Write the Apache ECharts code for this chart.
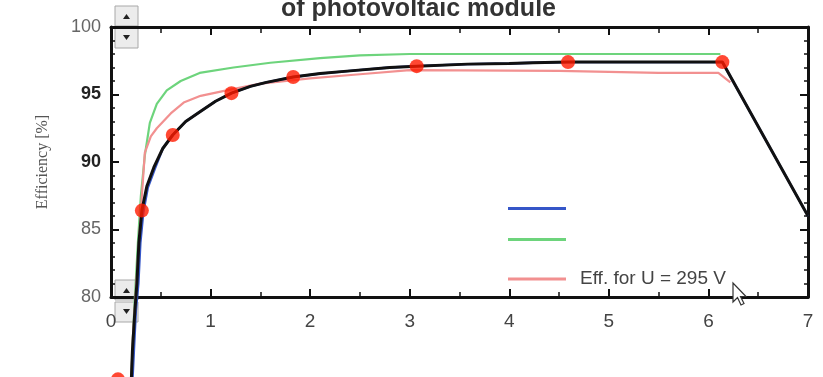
<!DOCTYPE html>
<html>
<head>
<meta charset="utf-8">
<script src="https://cdn.jsdelivr.net/npm/echarts@6/dist/echarts.min.js"></script>
<style>
  html, body { margin: 0; background: #fff; }
  #chart { width: 823px; height: 377px; }
</style>
</head>
<body>
<div id="chart"></div>
<script>
// values: [x, efficiency %]
const blackCurve = [
  [0.20, 73], [0.215, 76], [0.24, 79], [0.26, 81], [0.28, 84], [0.31, 86.4],
  [0.36, 88.2], [0.43, 89.6], [0.52, 91.0], [0.62, 92.0], [0.75, 93.0],
  [0.89, 93.7], [1.05, 94.5], [1.21, 95.1], [1.4, 95.6], [1.56, 95.9],
  [1.83, 96.3], [2.1, 96.55], [2.4, 96.75], [2.8, 97.0], [3.07, 97.1],
  [3.58, 97.25], [4.0, 97.3], [4.24, 97.35], [4.59, 97.4], [5.2, 97.4],
  [6.14, 97.4], [7, 86.0]
]
const blueCurve = [
  [0.21, 73], [0.23, 76], [0.25, 79], [0.275, 81], [0.295, 84], [0.325, 86.3],
  [0.37, 88.1], [0.44, 89.5], [0.52, 91.0], [0.62, 92.0], [0.75, 93.0],
  [0.89, 93.7], [1.05, 94.5], [1.21, 95.1], [1.4, 95.6], [1.56, 95.9],
  [1.83, 96.3], [2.1, 96.55], [2.4, 96.75], [2.8, 97.0], [3.07, 97.1],
  [3.58, 97.25], [4.0, 97.3], [4.24, 97.35], [4.59, 97.4], [5.2, 97.4],
  [6.14, 97.4], [7, 86.0]
]
const greenCurve = [
  [0.20, 73], [0.22, 77], [0.24, 80], [0.27, 84], [0.30, 87.5], [0.34, 90.5],
  [0.39, 92.9], [0.46, 94.3], [0.56, 95.3], [0.7, 96.0], [0.89, 96.6],
  [1.23, 97.0], [1.6, 97.35], [2.1, 97.7], [2.5, 97.9], [3.0, 98.0], [6.12, 98.0]
]
const pinkCurve = [
  [0.20, 73], [0.22, 77], [0.25, 80.5], [0.28, 84], [0.31, 87.5], [0.34, 90.7],
  [0.40, 91.9], [0.46, 92.5], [0.6, 93.6], [0.73, 94.4], [0.9, 94.9],
  [1.16, 95.3], [1.5, 95.8], [2.0, 96.2], [2.5, 96.5], [3.0, 96.8],
  [4.5, 96.75], [5.5, 96.6], [6.1, 96.6], [6.22, 95.9]
]
const markerPoints = [
  [0.07, 73.9], [0.31, 86.4], [0.62, 92.0], [1.21, 95.1], [1.83, 96.3],
  [3.07, 97.1], [4.59, 97.4], [6.14, 97.4]
]
const legendText = { red: 'Eff. for U = 295 V' }

const chart = echarts.init(document.getElementById('chart'))

const axisLine = { show: true, onZero: false, lineStyle: { color: '#111', width: 3 } }
const tick = { show: true, inside: true, length: 8, lineStyle: { color: '#111', width: 2 } }
const sans = 'Liberation Sans, Arial'

// little up/down spinner boxes sitting over the axis corners
const spinner = (x, y) => ({
  type: 'group', x, y, z: 100,
  children: [
    { type: 'rect', shape: { x: 0, y: 0, width: 23, height: 20 }, style: { fill: '#ececec', stroke: '#a8a8a8', lineWidth: 1 } },
    { type: 'rect', shape: { x: 0, y: 22, width: 23, height: 20 }, style: { fill: '#ececec', stroke: '#a8a8a8', lineWidth: 1 } },
    { type: 'polygon', shape: { points: [[8, 13], [15, 13], [11.5, 8]] }, style: { fill: '#222' } },
    { type: 'polygon', shape: { points: [[8, 29], [15, 29], [11.5, 34]] }, style: { fill: '#222' } }
  ]
})

const makeLine = (name, data, color, width, z) => ({
  name,
  type: 'line',
  data,
  showSymbol: false,
  symbol: 'none',
  clip: false,
  z,
  lineStyle: { color, width },
  itemStyle: { color }
})

const makeLegend = (name, top) => ({
  data: [name],
  orient: 'vertical',
  left: 508,
  top,
  padding: 0,
  icon: 'rect',
  itemWidth: 58,
  itemHeight: 3,
  selectedMode: false,
  formatter: n => legendText[n] || '',
  textStyle: { fontSize: 19, lineHeight: 20, color: '#444', fontFamily: sans, padding: [0, 0, 0, 9] }
})

chart.setOption({
  animation: false,
  backgroundColor: '#fff',
  title: {
    text: 'of photovoltaic module',
    left: 281,
    top: -3,
    padding: 0,
    textStyle: { fontSize: 25, fontWeight: 'bold', color: '#333', fontFamily: sans }
  },
  grid: { left: 111, right: 15, top: 27, bottom: 80 },
  legend: [makeLegend('blue', 207), makeLegend('green', 238), makeLegend('red', 269)],
  xAxis: [
    {
      type: 'value', min: 0, max: 7, interval: 1, position: 'bottom',
      axisLine, axisTick: tick,
      minorTick: { show: true, splitNumber: 2, length: 5, lineStyle: { color: '#111', width: 1.5 } },
      splitLine: { show: false },
      axisLabel: { margin: 15, fontSize: 19, color: '#444', fontFamily: sans }
    },
    {
      type: 'value', min: 0, max: 7, interval: 1, position: 'top',
      axisLine, axisTick: tick,
      minorTick: { show: true, splitNumber: 2, length: 6, lineStyle: { color: '#111', width: 1.5 } },
      splitLine: { show: false },
      axisLabel: { show: false }
    }
  ],
  yAxis: [
    {
      type: 'value', min: 80, max: 100, interval: 5, position: 'left',
      axisLine, axisTick: tick,
      minorTick: { show: true, splitNumber: 5, length: 4, lineStyle: { color: '#111', width: 1.5 } },
      splitLine: { show: false },
      name: 'Efficiency [%]',
      nameLocation: 'middle',
      nameGap: 60,
      nameTextStyle: { fontSize: 16, color: '#555', fontFamily: 'Liberation Serif, serif' },
      axisLabel: {
        margin: 10,
        formatter: v => (v === 95 || v === 90) ? '{b|' + v + '}' : '{n|' + v + '}',
        rich: {
          b: { fontSize: 18, fontWeight: 'bold', color: '#222', fontFamily: sans },
          n: { fontSize: 18, color: '#666', fontFamily: sans }
        }
      }
    },
    {
      type: 'value', min: 80, max: 100, interval: 5, position: 'right',
      axisLine, axisTick: tick,
      minorTick: { show: true, splitNumber: 5, length: 4, lineStyle: { color: '#111', width: 1.5 } },
      splitLine: { show: false },
      axisLabel: { show: false }
    }
  ],
  series: [
    makeLine('green', greenCurve, '#6dd47c', 2.2, 2),
    makeLine('red', pinkCurve, '#f29090', 2.2, 3),
    makeLine('blue', blueCurve, '#3556c8', 2.4, 4),
    makeLine('black', blackCurve, '#111', 3, 5),
    {
      name: 'points',
      type: 'scatter',
      data: markerPoints,
      symbolSize: 14,
      clip: false,
      z: 6,
      itemStyle: { color: '#ff1a00' }
    }
  ],
  graphic: [
    spinner(115, 6),
    spinner(115, 280),
    {
      type: 'polygon', z: 100, x: 733, y: 283,
      shape: { points: [[0, 0], [0, 19], [4.5, 14.5], [8, 22], [11, 20.5], [7.5, 13.5], [13, 13.5]] },
      style: { fill: '#fff', stroke: '#333', lineWidth: 1.2 }
    }
  ]
})
</script>
</body>
</html>
